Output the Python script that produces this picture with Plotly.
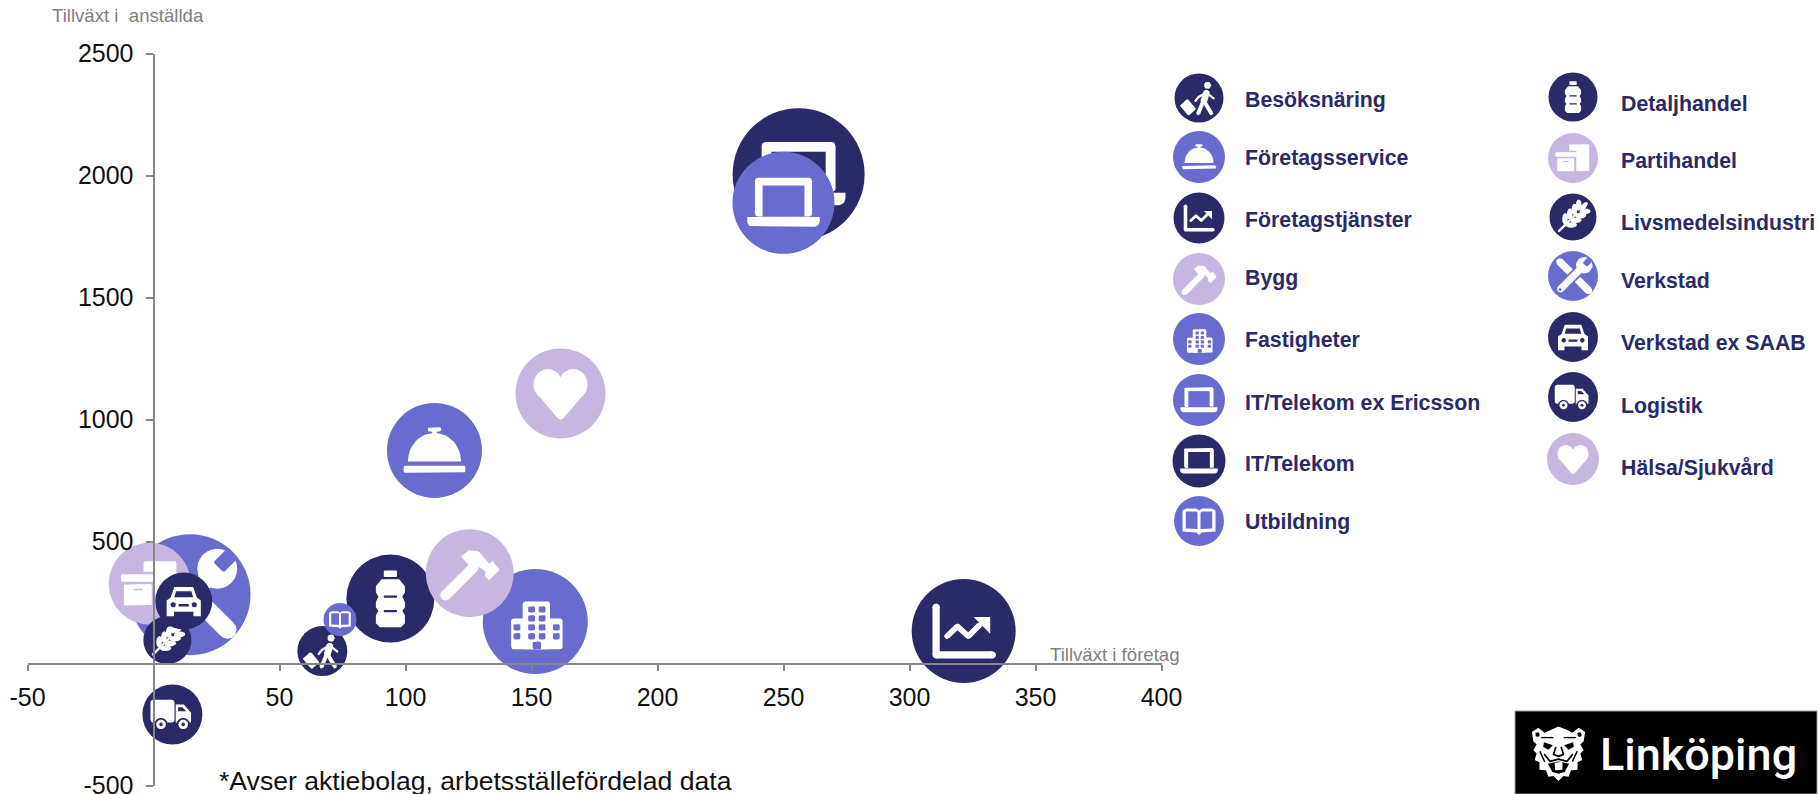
import math
import plotly.graph_objects as go

W, H = 1819, 794

# data, in the order of the legend
branscher = ["Besöksnäring", "Företagsservice", "Företagstjänster", "Bygg", "Fastigheter",
             "IT/Telekom ex Ericsson", "IT/Telekom", "Utbildning", "Detaljhandel", "Partihandel",
             "Livsmedelsindustri", "Verkstad", "Verkstad ex SAAB", "Logistik", "Hälsa/Sjukvård"]
tillvaxt_foretag = [67, 111.5, 321.5, 125.5, 151.5, 250, 256, 74, 94, -1.5, 5.5, 14.5, 12, 7.5, 161.5]
tillvaxt_anstallda = [51, 873, 133, 370, 172, 1888, 2005, 180, 266, 327, 96, 282, 256, -209, 1107]
storlek = [625, 2256, 2704, 1936, 2756, 2601, 4356, 272, 1936, 1681, 576, 3660, 812, 900, 2025]

x_ticks = [-50, 50, 100, 150, 200, 250, 300, 350, 400]
x_tick_text = ["-50", "50", "100", "150", "200", "250", "300", "350", "400"]
y_ticks = [-500, 500, 1000, 1500, 2000, 2500]
y_tick_text = ["-500", "500", "1000", "1500", "2000", "2500"]

ikoner = ["vandrare", "klocka", "diagram", "hammare", "hus", "dator", "dator", "bok", "flaska", "lada",
          "vete", "verktyg", "bil", "lastbil", "hjarta"]
farggrupp = ["mork", "mellan", "mork", "ljus", "mellan", "mellan", "mork", "mellan", "mork", "ljus",
             "mork", "mellan", "mork", "mork", "ljus"]
ritordning = [6, 5, 11, 9, 10, 12, 0, 8, 7, 4, 3, 2, 1, 14, 13]

FARG = {"mork": "#2b2a68", "mellan": "#696bcf", "ljus": "#c6b6e0"}
TEXT = "#2b2a68"
GRA = "#7f7f7f"
AXEL = "#868686"

# pixel frame of the axes
X0, X1 = 27.5, 1161.5
Y0, Y1 = 785.5, 53.5
SX = (X1 - X0) / 450
SY = (Y0 - Y1) / 3000
X_NOLL = X0 + 50 * SX
Y_NOLL = Y0 - 500 * SY


def arc(cx, cy, rx, ry, a0=0, a1=360, n=24):
    return [(cx + rx * math.cos(math.radians(a0 + (a1 - a0) * i / n)),
             cy + ry * math.sin(math.radians(a0 + (a1 - a0) * i / n))) for i in range(n + 1)]


def rrect(x0, y0, x1, y1, r=0.03):
    return (arc(x1 - r, y1 - r, r, r, 0, 90, 4) + arc(x0 + r, y1 - r, r, r, 90, 180, 4) +
            arc(x0 + r, y0 + r, r, r, 180, 270, 4) + arc(x1 - r, y0 + r, r, r, 270, 360, 4))


def rot(pts, deg, cx=0, cy=0):
    c, s = math.cos(math.radians(deg)), math.sin(math.radians(deg))
    return [(cx + (x - cx) * c - (y - cy) * s, cy + (x - cx) * s + (y - cy) * c) for x, y in pts]


def streck(pts, w, farg="v"):
    # thick line with round ends, as filled parts so it scales with the bubble
    delar = []
    for (a, b), (c, d) in zip(pts[:-1], pts[1:]):
        ln = math.hypot(c - a, d - b)
        nx, ny = -(d - b) / ln * w / 2, (c - a) / ln * w / 2
        delar.append((farg, [(a + nx, b + ny), (c + nx, d + ny), (c - nx, d - ny), (a - nx, b - ny)]))
    for x, y in pts:
        delar.append((farg, arc(x, y, w / 2, w / 2, n=12)))
    return delar


def dator():
    return [("v", rrect(-.56, -.27, .56, .49, .06)), ("b", [(-.41, -.27), (-.41, .34), (.41, .34), (.41, -.27)]),
            ("v", [(-.71, -.28), (.71, -.28)] + arc(.6, -.36, .11, .11, 0, -90, 6) + arc(-.6, -.36, .11, .11, 270, 180, 6))]


def klocka():
    return [("v", arc(0, -.23, .56, .6, 0, 180)), ("v", rrect(-.14, .4, .14, .49, .03)),
            ("v", rrect(-.05, .3, .05, .45, .01)), ("v", rrect(-.65, -.47, .65, -.32, .04))]


def diagram():
    return (streck([(-.53, .46), (-.53, -.46), (.55, -.46)], .14) +
            streck([(-.32, -.1), (-.12, .09), (.09, -.1), (.3, .11)], .11) +
            [("v", [(.19, .27), (.51, .27), (.51, -.05)])])


def hammare():
    return (streck([(-.55, -.5), (.08, .13)], .24) +
            [("v", [(-.2, .38), (-.02, .52), (.2, .5), (.36, .3), (.44, .22), (.52, .28), (.68, .08), (.44, -.16),
                    (.34, -.06), (.36, .04), (.18, .16), (.02, .14), (-.08, .24)])])


def hus():
    ut = [("v", rrect(-.24, -.53, .28, .38, .05)), ("v", rrect(-.46, -.53, .52, .06, .05))]
    for yy in (.23, .06, -.11, -.28):
        for xx in (-.07, .13):
            ut.append(("b", rrect(xx - .065, yy - .06, xx + .065, yy + .06, .025)))
    for yy, xs in ((-.11, (-.35, .4)), (-.28, (-.35, .4))):
        for xx in xs:
            ut.append(("b", rrect(xx - .065, yy - .06, xx + .065, yy + .06, .025)))
    ut.append(("b", rrect(-.05, -.53, .11, -.38, .03)))
    return ut


def bok():
    return [("v", [(-.66, .42), (-.5, .5), (-.12, .5), (0, .42), (.12, .5), (.5, .5), (.66, .42),
                   (.66, -.42), (.1, -.46), (0, -.56), (-.1, -.46), (-.66, -.42)]),
            ("b", [(-.53, .38), (-.1, .38), (-.06, .32), (-.06, -.32), (-.53, -.3)]),
            ("b", [(.53, .38), (.1, .38), (.06, .32), (.06, -.32), (.53, -.3)])]


def flaska():
    kropp = [(-.2, .44), (.2, .44), (.33, .28), (.33, .14), (.27, .04), (.33, -.08), (.33, -.2), (.27, -.28),
             (.33, -.38), (.33, -.56), (.24, -.65), (-.24, -.65), (-.33, -.56), (-.33, -.38), (-.27, -.28),
             (-.33, -.2), (-.33, -.08), (-.27, .04), (-.33, .14), (-.33, .28)]
    return [("v", rrect(-.15, .49, .15, .64, .02)), ("v", kropp),
            ("b", rrect(-.15, .02, .15, .07, .01)), ("b", rrect(-.15, -.31, .15, -.26, .01))]


def lada():
    return [("v", rrect(-.15, -.53, .65, .55, .05)), ("b", rrect(-.78, -.62, .13, .29, .02)),
            ("v", rrect(-.7, .05, .15, .23, .02)), ("v", rrect(-.63, -.53, .05, -.01, .03)),
            ("b", rrect(-.4, -.16, -.17, -.12, .01))]


def vete():
    ut = streck([(-.6, -.6), (.15, .15)], .1)
    for t in (-.3, -.1, .1, .28):
        for tecken in (1, -1):
            blad = rot(arc(0, 0, .24, .12, n=12), 45 + tecken * 42)
            d = .19
            ut.append(("v", [(x + t + tecken * -d * .71 + .71 * d * .7, y + t + tecken * d * .71 + .71 * d * .7) for x, y in blad]))
    topp = rot(arc(0, 0, .22, .11, n=12), 45)
    ut.append(("v", [(x + .46, y + .46) for x, y in topp]))
    return ut


def verktyg():
    ut = streck([(.62, -.58), (-.52, .56)], .3, "v")
    ut += streck([(-.5, -.52), (.42, .4)], .42, "b")
    ut += streck([(-.5, -.52), (.42, .4)], .28, "v")
    ut.append(("v", arc(.45, .43, .33, .33)))
    mun = rot(rrect(-.12, 0, .12, .34, .03), -45)
    ut.append(("b", [(x + .47, y + .45) for x, y in mun]))
    ut.append(("b", arc(-.52, -.54, .06, .06, n=10)))
    return ut


def bil():
    kropp = [(-.33, .49), (.33, .49), (.46, .12), (.6, .02), (.6, -.53), (.34, -.53), (.34, -.38), (-.34, -.38),
             (-.34, -.53), (-.6, -.53), (-.6, .02), (-.46, .12)]
    return [("v", kropp), ("b", [(-.27, .34), (.27, .34), (.33, .13), (-.33, .13)]),
            ("b", arc(-.37, -.13, .09, .09, n=10)), ("b", arc(.37, -.13, .09, .09, n=10)),
            ("b", rrect(-.18, -.19, .18, -.1, .01))]


def lastbil():
    ut = [("v", rrect(-.73, -.27, .07, .49, .09)),
          ("v", [(.11, -.27), (.11, .33), (.38, .33), (.62, .06), (.62, -.27)]),
          ("b", [(.19, .11), (.19, .24), (.33, .24), (.46, .11)])]
    for xx in (-.38, .36):
        ut += [("b", arc(xx, -.33, .22, .22, n=14)), ("v", arc(xx, -.33, .16, .16, n=14)), ("b", arc(xx, -.33, .06, .06, n=8))]
    return ut


def hjarta():
    return [("v", arc(-.28, .2, .32, .34)), ("v", arc(.28, .2, .32, .34)),
            ("v", [(-.58, .07), (-.3, -.28), (-.06, -.56), (0, -.58), (.06, -.56), (.3, -.28), (.58, .07), (.1, .28), (-.1, .28)])]


def vandrare():
    ut = [("v", arc(.35, .52, .15, .15, n=14))]
    ut += streck([(.3, .2), (.2, -.12)], .27)
    ut += streck([(.2, -.12), (.5, -.62)], .16)
    ut += streck([(.18, -.12), (-.03, -.62)], .16)
    ut += streck([(.33, .2), (.6, -.02)], .09)
    ut += streck([(.25, .2), (-.02, .04), (-.15, -.12)], .09)
    vaska = rot(rrect(-.21, -.28, .21, .28, .05), 40)
    ut.append(("v", [(x - .45, y - .38) for x, y in vaska]))
    return ut


def lejon():
    kontur = [(-.95, .75), (-.72, .9), (-.5, .72), (-.25, .85), (0, .95), (.25, .85), (.5, .72), (.72, .9), (.95, .75),
              (.9, .42), (.78, .3), (.9, .1), (.78, -.02), (.85, -.25), (.68, -.33), (.68, -.6), (.45, -.62),
              (.36, -.85), (.18, -.82), (0, -1), (-.18, -.82), (-.36, -.85), (-.45, -.62), (-.68, -.6), (-.68, -.33),
              (-.85, -.25), (-.78, -.02), (-.9, .1), (-.78, .3), (-.9, .42)]
    ut = [("v", kontur), ("k", rrect(-.82, .58, -.68, .74, .05)), ("k", rrect(.68, .58, .82, .74, .05))]
    ut += [("k", [(-.52, .38), (-.2, .28), (-.36, .12), (-.55, .22)]), ("k", [(.52, .38), (.2, .28), (.36, .12), (.55, .22)])]
    ut += streck([(-.1, .2), (-.18, -.05), (0, -.12), (.18, -.05), (.1, .2)], .06, "k")
    ut += streck([(-.5, -.05), (-.3, -.3), (0, -.22), (.3, -.3), (.5, -.05)], .06, "k")
    ut += [("k", [(-.38, -.38), (0, -.3), (.38, -.38), (.22, -.68), (0, -.74), (-.22, -.68)]), ("v", rrect(-.14, -.62, .14, -.32, .04))]
    ut += streck([(-.66, .05), (-.5, -.3)], .05, "k") + streck([(.66, .05), (.5, -.3)], .05, "k")
    ut += streck([(-.6, .55), (-.2, .55)], .05, "k") + streck([(.6, .55), (.2, .55)], .05, "k")
    return ut


FORMER = {"dator": dator, "klocka": klocka, "diagram": diagram, "hammare": hammare, "hus": hus, "bok": bok,
          "flaska": flaska, "lada": lada, "vete": vete, "verktyg": verktyg, "bil": bil, "lastbil": lastbil,
          "hjarta": hjarta, "vandrare": vandrare, "lejon": lejon}


def rita_ikon(fig, namn, cx, cy, r, sx, sy, grund, axlar):
    fargmap = {"v": "white", "b": grund, "k": "black"}
    for farg, pts in FORMER[namn]():
        fig.add_trace(go.Scatter(
            x=[cx + p[0] * r / sx for p in pts] + [cx + pts[0][0] * r / sx],
            y=[cy + p[1] * r / sy for p in pts] + [cy + pts[0][1] * r / sy],
            mode="lines", fill="toself", fillcolor=fargmap[farg], line=dict(width=0),
            hoverinfo="skip", showlegend=False, **axlar))


fig = go.Figure()

# bubbles with their icons, back to front
for i in ritordning:
    c = FARG[farggrupp[i]]
    fig.add_trace(go.Scatter(x=[tillvaxt_foretag[i]], y=[tillvaxt_anstallda[i]], mode="markers", name=branscher[i],
                             marker=dict(size=[storlek[i]], sizemode="area", sizeref=0.5, color=c, opacity=1,
                                         line=dict(width=0)),
                             showlegend=False))
    rita_ikon(fig, ikoner[i], tillvaxt_foretag[i], tillvaxt_anstallda[i], math.sqrt(storlek[i]), SX, SY, c,
              dict(xaxis="x", yaxis="y"))

# hand made legend, placed in pixels on a second pair of axes
pixel = dict(xaxis="x2", yaxis="y2")
kolumner = [
    dict(rader=branscher[:8], ikon_x=1199, text_x=1243,
         ikon_y=[98, 157, 218, 279, 339, 400, 461, 521], text_y=[100, 158, 220, 278, 340, 403, 464, 522],
         r=[24.5, 26, 25.5, 26, 26, 26, 26.5, 25]),
    dict(rader=branscher[8:], ikon_x=1573, text_x=1619,
         ikon_y=[97, 158, 217, 276, 337, 397, 459], text_y=[104, 161, 223, 281, 343, 406, 468],
         r=[24.5, 25, 23.5, 25, 25, 25, 26]),
]
annots = []
for kol in kolumner:
    for rad, iy, ty, r in zip(kol["rader"], kol["ikon_y"], kol["text_y"], kol["r"]):
        i = branscher.index(rad)
        c = FARG[farggrupp[i]]
        fig.add_trace(go.Scatter(x=[kol["ikon_x"]], y=[iy], mode="markers", hoverinfo="skip", showlegend=False,
                                 marker=dict(size=2 * r, color=c, opacity=1, line=dict(width=0)), **pixel))
        rita_ikon(fig, ikoner[i], kol["ikon_x"], iy, r, 1, -1, c, pixel)
        annots.append(dict(x=kol["text_x"] / W, y=1 - ty / H, xref="paper", yref="paper", text=f"<b>{rad}</b>",
                           showarrow=False, xanchor="left", yanchor="middle",
                           font=dict(family="Liberation Sans", size=21.3, color=TEXT)))

# logo
rita_ikon(fig, "lejon", 1558.5, 753, 28, 1, -1, "black", pixel)

for txt, xp, yp, storl, farg, ank in [
    ("Tillväxt i  anställda", 50, 16, 18.6, GRA, "left"),
    ("Tillväxt i företag", 1182, 654, 18.6, GRA, "right"),
    ("*Avser aktiebolag, arbetsställefördelad data", 217, 781, 26.6, "#111111", "left"),
]:
    annots.append(dict(x=xp / W, y=1 - yp / H, xref="paper", yref="paper", text=txt, showarrow=False,
                       xanchor=ank, yanchor="middle", font=dict(family="Liberation Sans", size=storl, color=farg)))
annots.append(dict(x=1598 / W, y=1 - 754 / H, xref="paper", yref="paper", text="Linköping", showarrow=False,
                   xanchor="left", yanchor="middle", font=dict(family="Roboto", size=45, color="white", weight=500)))

fig.update_layout(
    template="none",
    width=W, height=H, margin=dict(l=0, r=0, t=0, b=0, pad=0, autoexpand=False), autosize=False,
    paper_bgcolor="white", plot_bgcolor="rgba(0,0,0,0)", showlegend=False,
    font=dict(family="Liberation Sans"),
    annotations=annots,
    shapes=[dict(type="rect", xref="paper", yref="paper", x0=1515 / W, x1=1817 / W, y0=0, y1=1 - 711 / H,
                 fillcolor="black", line=dict(color="#999999", width=1), layer="below")],
    xaxis=dict(range=[-50, 400], domain=[X0 / W, X1 / W], anchor="free", position=1 - Y_NOLL / H,
               tickmode="array", tickvals=x_ticks, ticktext=x_tick_text, ticks="outside", ticklen=6, tickwidth=2, tickcolor=AXEL,
               showline=True, linecolor=AXEL, linewidth=2, showgrid=False, zeroline=False, automargin=False,
               ticklabelstandoff=5, tickfont=dict(size=25, color="#111111")),
    yaxis=dict(range=[-500, 2500], domain=[1 - Y0 / H, 1 - Y1 / H], anchor="free", position=X_NOLL / W,
               tickmode="array", tickvals=y_ticks, ticktext=y_tick_text, ticks="outside", ticklen=7, tickwidth=2, tickcolor=AXEL,
               showline=True, linecolor=AXEL, linewidth=2, showgrid=False, zeroline=False, automargin=False,
               ticklabelstandoff=7, ticklabeloverflow="allow", tickfont=dict(size=25, color="#111111")),
    xaxis2=dict(range=[0, W], domain=[0, 1], anchor="y2", visible=False, automargin=False),
    yaxis2=dict(range=[H, 0], domain=[0, 1], anchor="x2", visible=False, automargin=False),
)

# the page's default body margin would push everything 8 px in
fig.write_html("out.html", config=dict(displayModeBar=False), post_script="document.body.style.margin='0';")
